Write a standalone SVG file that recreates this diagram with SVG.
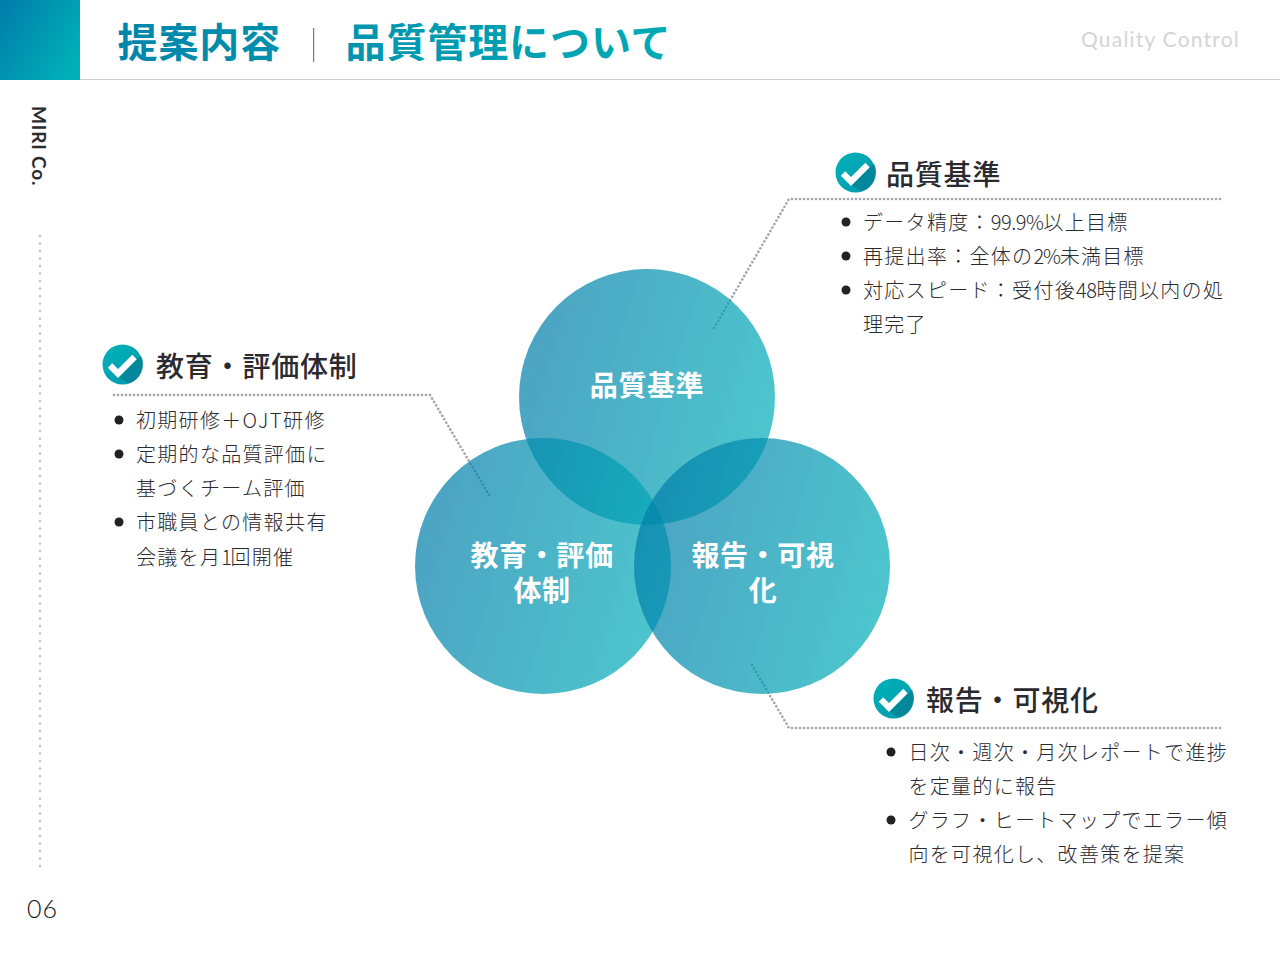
<svg xmlns="http://www.w3.org/2000/svg" width="1280" height="960" viewBox="0 0 1280 960">
<style>
text{font-family:"Noto Sans CJK JP","Noto Sans",sans-serif;fill:#2b2b2f}
.h{font-size:28px;font-weight:500;letter-spacing:.8px}
.b{font-size:20px;font-weight:300;letter-spacing:1.3px}
.c{font-size:28px;font-weight:700;fill:#fff;text-anchor:middle;letter-spacing:.6px}
.t{font-size:40px;font-weight:700;fill:url(#tg);letter-spacing:.9px}
.d{fill:none;stroke:#a4a4ae;stroke-width:2.6;stroke-linecap:round;stroke-dasharray:.1 3.9}
.v{fill:none;stroke:#c4c4cc;stroke-width:2.6;stroke-linecap:round;stroke-dasharray:.1 7.4}
.blob{fill:url(#cg);fill-opacity:.7}
.bu{fill:#222226}
</style>
<defs>
<linearGradient id="hg" x1="0" y1="0.2" x2="1" y2="0.8"><stop offset="0" stop-color="#0080ac"/><stop offset="1" stop-color="#00b2b8"/></linearGradient>
<linearGradient id="cg" x1="0" y1="0.35" x2="1" y2="0.65"><stop offset="0" stop-color="#007ca9"/><stop offset="1" stop-color="#00aeb8"/></linearGradient>
<linearGradient id="tg" gradientUnits="userSpaceOnUse" x1="118" y1="0" x2="668" y2="0"><stop offset="0" stop-color="#0085aa"/><stop offset="1" stop-color="#00aab4"/></linearGradient>
<linearGradient id="ig" x1="0" y1="0" x2="1" y2="1"><stop offset="0" stop-color="#00b3ba"/><stop offset="1" stop-color="#0097ab"/></linearGradient>
<g id="check">
<circle r="20" fill="url(#ig)"/>
<path d="M-4 13 L18.500 -9 A20 20 0 0 1 6 19 Z" fill="#037f94" opacity=".75"/>
<path d="M-12.500 1 L-4.500 9 L12 -7.500" fill="none" stroke="#fff" stroke-width="6.2"/>
</g>
</defs>
<rect width="1280" height="960" fill="#fff"/>
<g id="header">
<rect width="80" height="80" fill="url(#hg)"/>
<rect x="80" y="79" width="1200" height="1" fill="#cfcfcf"/>
<text class="t" x="117.500" y="57">提案内容</text>
<rect x="313" y="28" width="1.2" height="34" fill="#777"/>
<text class="t" x="345.500" y="57">品質管理について</text>
<text x="1081" y="47" style="font-family:Lato,sans-serif;font-size:21px;letter-spacing:1.2px;fill:#d4d4d4">Quality Control</text>
</g>
<g id="sidebar">
<text transform="translate(32 106) rotate(90)" style="font-family:Lato,sans-serif;font-size:19px;font-weight:700;letter-spacing:.8px">MIRI Co.</text>
<text x="27" y="918" style="font-family:Lato,sans-serif;font-size:25px;font-weight:300;letter-spacing:1px;fill:#111">06</text>
</g>
<g id="connectors">
<path class="v" d="M40 236V867"/>
<path class="d" d="M1220 199H789L714 328"/>
<path class="d" d="M114 395H430L489 495"/>
<path class="d" d="M1220 728H789L752 665"/>
</g>
<g id="node-quality"><circle class="blob" cx="647" cy="397" r="128"/></g>
<g id="node-education"><circle class="blob" cx="543" cy="566" r="128"/></g>
<g id="node-report"><circle class="blob" cx="762" cy="566" r="128"/></g>
<g id="circle-labels">
<text class="c" x="647" y="395.500">品質基準</text>
<text class="c"><tspan x="542" y="565.500">教育・評価</tspan><tspan x="542" y="600.500">体制</tspan></text>
<text class="c"><tspan x="763" y="565.500">報告・可視</tspan><tspan x="763" y="600.500">化</tspan></text>
</g>
<g id="detail-quality">
<use href="#check" x="855.500" y="172.500"/>
<text class="h" x="886" y="184.500">品質基準</text>
<circle class="bu" cx="846" cy="222" r="4.5"/><circle class="bu" cx="846" cy="256" r="4.5"/><circle class="bu" cx="846" cy="290" r="4.5"/>
<text class="b" x="863" y="230">データ精度：<tspan style="letter-spacing:-.5px">99.9%</tspan>以上目標</text>
<text class="b" x="863" y="264">再提出率：全体の<tspan style="letter-spacing:-1.2px">2%</tspan>未満目標</text>
<text class="b" x="863" y="298">対応スピード：受付後<tspan style="letter-spacing:-.5px">48</tspan>時間以内の処</text>
<text class="b" x="863" y="332">理完了</text>
</g>
<g id="detail-education">
<use href="#check" x="122.500" y="364.500"/>
<text class="h" x="156" y="377">教育・評価体制</text>
<circle class="bu" cx="119" cy="420" r="4.5"/><circle class="bu" cx="119" cy="454" r="4.5"/><circle class="bu" cx="119" cy="522" r="4.5"/>
<text class="b" x="136" y="428">初期研修＋<tspan style="letter-spacing:1.6px">OJT</tspan>研修</text>
<text class="b" x="136" y="462">定期的な品質評価に</text>
<text class="b" x="136" y="496">基づくチーム評価</text>
<text class="b" x="136" y="530">市職員との情報共有</text>
<text class="b" x="136" y="565">会議を月<tspan style="letter-spacing:-1.5px">1</tspan>回開催</text>
</g>
<g id="detail-report">
<use href="#check" x="893.500" y="698.500"/>
<text class="h" x="926" y="710.500">報告・可視化</text>
<circle class="bu" cx="891" cy="752" r="4.5"/><circle class="bu" cx="891" cy="820" r="4.5"/>
<text class="b" x="908.500" y="760">日次・週次・月次レポートで進捗</text>
<text class="b" x="908.500" y="794">を定量的に報告</text>
<text class="b" x="908.500" y="828">グラフ・ヒートマップでエラー傾</text>
<text class="b" x="908.500" y="862">向を可視化し、改善策を提案</text>
</g>
</svg>
